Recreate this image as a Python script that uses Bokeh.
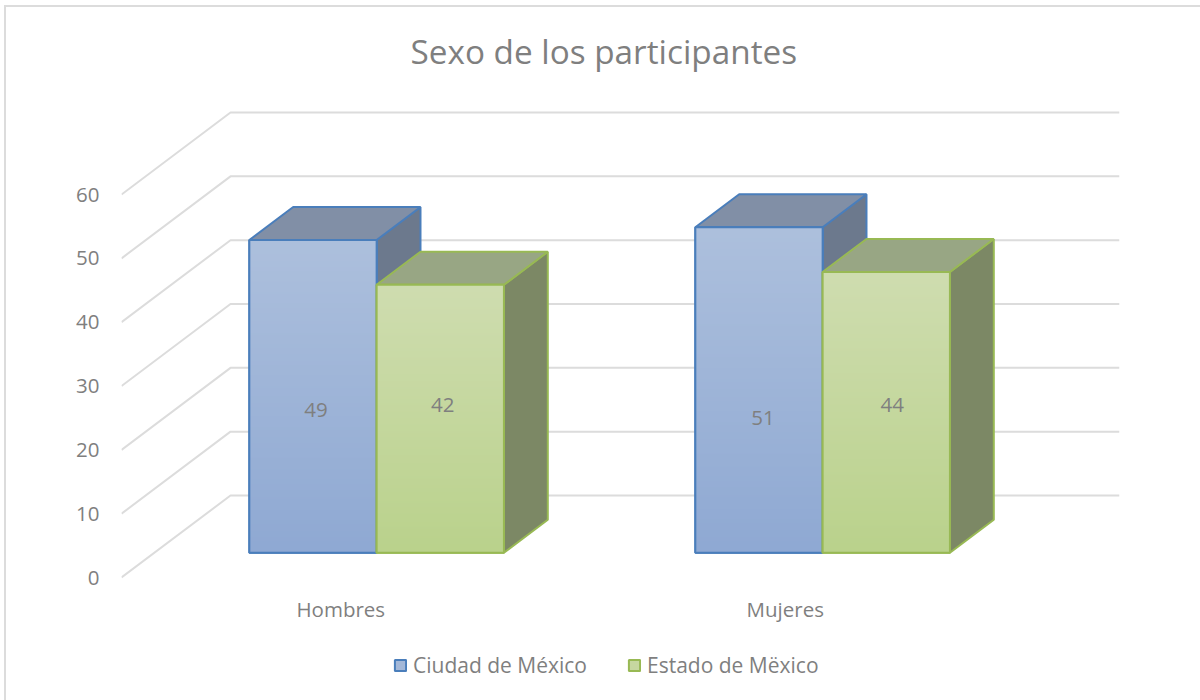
import numpy as np
from bokeh.core.properties import value
from bokeh.embed import file_html
from bokeh.models import ColumnDataSource, FixedTicker, Legend, LegendItem
from bokeh.plotting import figure
from bokeh.resources import INLINE

title = "Sexo de los participantes"
categories = ["Hombres", "Mujeres"]
ciudad = [49, 51]
estado = [42, 44]
series_names = ["Ciudad de México", "Estado de Mëxico"]
y_ticks = [0, 10, 20, 30, 40, 50, 60]

ciudad_label_y = [22.4, 21.15]
estado_label_y = [23.2, 23.2]
ciudad_label_dx = [3, 4]
estado_label_dx = [2.5, 6]

FONT = "Open Sans"
TXT = "#7f7f7f"
GRID = "#dcdcdc"
PX = 6.383
WALL_DX, WALL_DY = 109, 82 / PX
Z0, ZD = 24.7 / 82, 33 / 82
BAR_W = 127.3
GROUP_STEP = 446
GROUP_X0 = 95


def proj(x, z, v):
    return x + z * WALL_DX, v + z * WALL_DY


p = figure(width=1200, height=700, output_backend="svg", toolbar_location=None,
           x_range=(0, 998), y_range=(-119 / PX, 501 / PX),
           min_border_left=121, min_border_right=81, min_border_top=76, min_border_bottom=4)
p.grid.visible = False
p.outline_line_color = None
p.background_fill_color = "white"
p.border_fill_color = None
p.styles = {
    "background": f"linear-gradient({GRID},{GRID}) 4px 5px / 100% 2px no-repeat, "
                  f"linear-gradient({GRID},{GRID}) 4px 5px / 2px 100% no-repeat, white"
}

p.title.text = title
p.title.text_font = FONT
p.title.text_font_size = "33.3px"
p.title.text_font_style = "normal"
p.title.text_color = TXT
p.title.align = "left"
p.title.offset = 289
p.title.standoff = 5

for a in (p.yaxis[0], p.xaxis[0]):
    a.axis_line_color = None
    a.major_tick_line_color = None
    a.minor_tick_line_color = None
    a.major_label_text_font = FONT
    a.major_label_text_font_size = "20.5px"
    a.major_label_text_color = TXT
p.yaxis[0].ticker = FixedTicker(ticks=y_ticks)
p.yaxis[0].major_label_standoff = 16

tick_x = [GROUP_X0 + BAR_W - 3 + (GROUP_STEP - 1.5) * i for i in range(len(categories))]
p.xaxis[0].ticker = FixedTicker(ticks=tick_x)
p.xaxis[0].major_label_overrides = {t: c for t, c in zip(tick_x, categories)}
p.xaxis[0].major_label_standoff = 11
p.xaxis[0].fixed_location = 0

# walls
xs, ys = [], []
for t in y_ticks:
    x1, y1 = proj(0, 1, t)
    xs.append([0, x1, 998])
    ys.append([t, y1, y1])
p.multi_line(xs, ys, line_color=GRID, line_width=2)


def gradient(bottom, top, n=256):
    b, t = np.array(bottom), np.array(top)
    img = np.zeros((n, 1), dtype=np.uint32)
    view = img.view(dtype=np.uint8).reshape((n, 1, 4))
    for i in range(n):
        c = b + (t - b) * i / (n - 1)
        view[i, 0] = [int(c[0]), int(c[1]), int(c[2]), 255]
    return img


def bars(vals, offset, edge, mid, grad, top_col, side_col):
    left, right, bottom, tops = [], [], [], []
    top_x, top_y, side_x, side_y = [], [], [], []
    for i, v in enumerate(vals):
        x0 = GROUP_X0 + GROUP_STEP * i + offset
        x1 = x0 + BAR_W
        fl, fb = proj(x0, Z0, 0)
        fr, ft = proj(x1, Z0, v)
        left.append(fl); right.append(fr); bottom.append(fb); tops.append(ft)
        a, b = proj(x0, Z0, v), proj(x1, Z0, v)
        c, d = proj(x1, Z0 + ZD, v), proj(x0, Z0 + ZD, v)
        top_x.append([a[0], b[0], c[0], d[0]]); top_y.append([a[1], b[1], c[1], d[1]])
        e, f = proj(x1, Z0 + ZD, 0), proj(x1, Z0, 0)
        side_x.append([b[0], c[0], e[0], f[0]]); side_y.append([b[1], c[1], e[1], f[1]])
    p.patches(side_x, side_y, fill_color=side_col, line_color=edge, line_width=2)
    p.patches(top_x, top_y, fill_color=top_col, line_color=edge, line_width=2)
    src = ColumnDataSource(dict(left=left, right=right, bottom=bottom, top=tops))
    r = p.quad(left="left", right="right", bottom="bottom", top="top", source=src,
               fill_color=mid, line_color=edge, line_width=2)
    for l, rr, bt, tp in zip(left, right, bottom, tops):
        p.image_rgba(image=[grad], x=l, y=bt, dw=rr - l, dh=tp - bt)
    p.quad(left="left", right="right", bottom="bottom", top="top", source=src,
           fill_color=None, line_color=edge, line_width=2)
    return r, left, right


b1, l1, r1 = bars(ciudad, 0, "#4a7ebb", "#a4b8d8", gradient((143, 169, 211), (173, 192, 221)), "#818fa6", "#6c798d")
b2, l2, r2 = bars(estado, BAR_W, "#98b954", "#c6d7a0", gradient((186, 210, 140), (207, 221, 176)), "#98a684", "#7c8865")

# data labels
lx = [(a + b) / 2 + d for a, b, d in zip(l1, r1, ciudad_label_dx)] + [(a + b) / 2 + d for a, b, d in zip(l2, r2, estado_label_dx)]
ly = [v + Z0 * WALL_DY for v in ciudad_label_y + estado_label_y]
lt = [str(v) for v in ciudad + estado]
p.text(lx, ly, text=lt, text_font=value(FONT), text_font_size="20.5px", text_color=TXT,
       text_align="center", text_baseline="middle")

legend = Legend(items=[LegendItem(label=series_names[0], renderers=[b1]),
                       LegendItem(label=series_names[1], renderers=[b2])],
                orientation="horizontal", location=(272, 17), padding=0, margin=0, spacing=40,
                glyph_width=14, glyph_height=14, label_standoff=6, border_line_color=None,
                background_fill_alpha=0, label_text_font=FONT, label_text_font_size="21px",
                label_text_color=TXT)
p.add_layout(legend, "center")

open("out.html", "w").write(file_html(p, INLINE))
